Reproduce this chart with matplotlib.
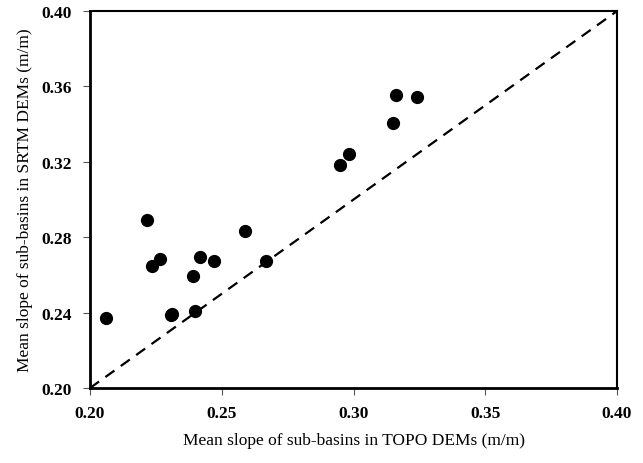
import matplotlib
matplotlib.use("Agg")
import matplotlib.pyplot as plt

# mean slope per sub-basin (m/m)
topo_slope = [0.2059, 0.2218, 0.2235, 0.2267, 0.2306, 0.2310, 0.2398, 0.2390,
              0.2418, 0.2469, 0.2587, 0.2669, 0.2948, 0.2981, 0.3151, 0.3162,
              0.3242]
srtm_slope = [0.2374, 0.2891, 0.2649, 0.2683, 0.2387, 0.2392, 0.2410, 0.2593,
              0.2693, 0.2674, 0.2833, 0.2674, 0.3185, 0.3243, 0.3404, 0.3554,
              0.3544]
x_ticks = [0.20, 0.25, 0.30, 0.35, 0.40]
y_ticks = [0.20, 0.24, 0.28, 0.32, 0.36, 0.40]

plt.rcParams['font.family'] = ['Liberation Serif', 'DejaVu Serif']

fig = plt.figure(figsize=(6.43, 4.64), dpi=100)
ax = fig.add_axes([0.140, 0.1616, 0.8196, 0.8124])

# 1:1 line
ax.plot([0.2, 0.4], [0.2, 0.4], color='black', lw=1.6, linestyle=(0, (5, 3.5)))
ax.plot(topo_slope, srtm_slope, 'o', color='black', markersize=8.5, clip_on=False)

ax.set_xlim(0.2, 0.4)
ax.set_ylim(0.2, 0.4)
ax.set_xticks(x_ticks)
ax.set_yticks(y_ticks)
ax.set_xticklabels(['%0.2f' % v for v in x_ticks], fontweight='bold', fontsize=12.5)
ax.set_yticklabels(['%0.2f' % v for v in y_ticks], fontweight='bold', fontsize=12.5)
ax.tick_params(direction='out', length=5, width=0.8, color='#555555', pad=8)
ax.tick_params(axis='x', pad=7)

for side in ['left', 'bottom']:
    ax.spines[side].set_linewidth(2.0)
for side in ['top', 'right']:
    ax.spines[side].set_linewidth(1.5)

ax.set_xlabel('Mean slope of sub-basins in TOPO DEMs (m/m)', fontsize=12.5, labelpad=8)
ax.set_ylabel('Mean slope of sub-basins in SRTM DEMs (m/m)', fontsize=12.5, labelpad=6)

fig.savefig('out.png', dpi=100)
